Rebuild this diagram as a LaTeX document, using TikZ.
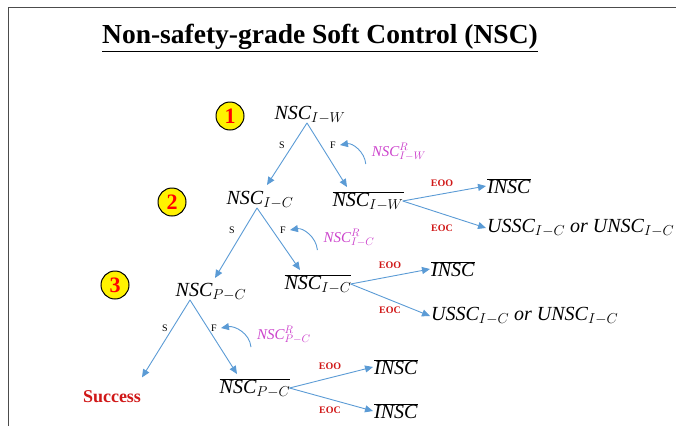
\documentclass[tikz,border=0pt]{standalone}
\usepackage{fontspec}
\setmainfont{Liberation Serif}
\usetikzlibrary{arrows.meta}
\newcommand{\sbx}[2]{_{\mbox{\fontsize{14}{14}\selectfont$#1\mathord{-}#2$}}}
\newcommand{\rsbx}[2]{^{\mbox{\fontsize{11}{11}\selectfont$R$}}_{\mbox{\fontsize{11}{11}\selectfont$#1\mathord{-}#2$}}}
\definecolor{arrblue}{HTML}{5B9BD5}
\definecolor{mag}{HTML}{CC44CC}
\definecolor{redlab}{HTML}{D01818}
\begin{document}
\begin{tikzpicture}[x=1pt,y=-1pt,
  arr/.style={draw=arrblue, line width=0.9pt, -{Triangle[length=8pt,width=7pt]}},
  mth/.style={font=\fontsize{20}{22}\selectfont, inner sep=1pt},
  rec/.style={font=\fontsize{15}{17}\selectfont, text=mag, inner sep=1pt},
  sf/.style={font=\fontsize{10}{11}\selectfont, inner sep=1pt},
  eo/.style={font=\bfseries\fontsize{10}{11}\selectfont, text=redlab, inner sep=1pt},
  num/.style={circle, draw=black, line width=1pt, fill=yellow, minimum size=28pt, inner sep=0pt,
    font=\bfseries\fontsize{22}{22}\selectfont, text=red}
]
\useasboundingbox (0,0) rectangle (676,426);
\clip (0,0) rectangle (676,426);
\draw[line width=1.5pt, black!70] (8.5,426) -- (8.5,7.5) -- (676,7.5);

\node[font=\bfseries\fontsize{27.5}{30}\selectfont] (title) at (320,38) {\underline{Non-safety-grade Soft Control (NSC)}};

% step numbers
\node[num] (n1) at (230,116) {1};
\node[num] (n2) at (172,202) {2};
\node[num] (n3) at (115,285) {3};

% main nodes
\node[mth] (iw)  at (310,115) {$\mathit{NSC}\sbx{I}{W}$};
\node[mth] (ic)  at (260,200) {$\mathit{NSC}\sbx{I}{C}$};
\node[mth] (pc)  at (211,292) {$\mathit{NSC}\sbx{P}{C}$};
\node[mth] (biw) at (368,201) {$\overline{\mathit{NSC}\sbx{I}{W}}$};
\node[mth] (bic) at (318,284) {$\overline{\mathit{NSC}\sbx{I}{C}}$};
\node[mth] (bpc) at (255,388) {$\overline{\mathit{NSC}\sbx{P}{C}}$};
\node[font=\bfseries\fontsize{18}{20}\selectfont, text=redlab] (succ) at (112,397) {Success};

% outcomes
\node[mth, anchor=west] (o1a) at (486,186) {$\overline{\mathit{INSC}}$};
\node[mth, anchor=west] (o1b) at (486,228) {$\mathit{USSC}\sbx{I}{C}\ \mathit{or}\ \mathit{UNSC}\sbx{I}{C}$};
\node[mth, anchor=west] (o2a) at (430,269) {$\overline{\mathit{INSC}}$};
\node[mth, anchor=west] (o2b) at (430,316) {$\mathit{USSC}\sbx{I}{C}\ \mathit{or}\ \mathit{UNSC}\sbx{I}{C}$};
\node[mth, anchor=west] (o3a) at (373,367) {$\overline{\mathit{INSC}}$};
\node[mth, anchor=west] (o3b) at (373,411) {$\overline{\mathit{INSC}}$};

% recovery labels
\node[rec] (riw) at (399,152) {$\mathit{NSC}\rsbx{I}{W}$};
\node[rec] (ric) at (349,238) {$\mathit{NSC}\rsbx{I}{C}$};
\node[rec] (rpc) at (284,335) {$\mathit{NSC}\rsbx{P}{C}$};

% S/F labels
\node[sf] (s1) at (282,145) {S};
\node[sf] (f1) at (333,145) {F};
\node[sf] (s2) at (232,230) {S};
\node[sf] (f2) at (283,230) {F};
\node[sf] (s3) at (165,328) {S};
\node[sf] (f3) at (214,328) {F};

% EOO/EOC labels
\node[eo] (e1o) at (442,183) {EOO};
\node[eo] (e1c) at (442,228) {EOC};
\node[eo] (e2o) at (390,265) {EOO};
\node[eo] (e2c) at (390,310) {EOC};
\node[eo] (e3o) at (330,366) {EOO};
\node[eo] (e3c) at (330,410) {EOC};

% branches
\draw[arr] ([xshift=-3pt,yshift=2pt]iw.south) -- ([xshift=7pt,yshift=5pt]ic.north);
\draw[arr] ([xshift=-3pt,yshift=2pt]iw.south) -- ([xshift=-21pt,yshift=3pt]biw.north);
\draw[arr] ([xshift=-3pt,yshift=2pt]ic.south) -- ([xshift=4pt,yshift=4pt]pc.north);
\draw[arr] ([xshift=-3pt,yshift=2pt]ic.south) -- ([xshift=-18pt,yshift=3pt]bic.north);
\draw[arr] ([xshift=-21pt,yshift=2pt]pc.south) -- ([xshift=30pt,yshift=10pt]succ.north);
\draw[arr] ([xshift=-21pt,yshift=2pt]pc.south) -- ([xshift=-18pt,yshift=3pt]bpc.north);

% recovery arcs
\draw[arr] ([xshift=-5pt,yshift=-2pt]riw.south west) to[out=95,in=10] ([xshift=3pt]f1.east);
\draw[arr] ([xshift=-5pt,yshift=-2pt]ric.south west) to[out=95,in=10] ([xshift=3pt]f2.east);
\draw[arr] ([xshift=-5pt,yshift=-2pt]rpc.south west) to[out=95,in=10] ([xshift=3pt]f3.east);

% outcome arrows
\draw[arr] ([xshift=-2pt]biw.east) -- (o1a.west);
\draw[arr] ([xshift=-2pt]biw.east) -- (o1b.west);
\draw[arr] ([xshift=-2pt]bic.east) -- (o2a.west);
\draw[arr] ([xshift=-2pt]bic.east) -- (o2b.west);
\draw[arr] ([xshift=-2pt]bpc.east) -- (o3a.west);
\draw[arr] ([xshift=-2pt]bpc.east) -- (o3b.west);
\end{tikzpicture}
\end{document}
